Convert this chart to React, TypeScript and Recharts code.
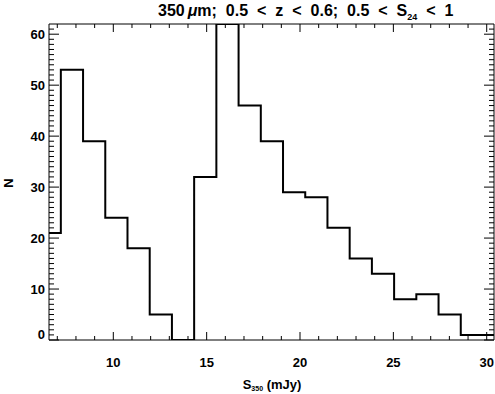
import React from "react";
import { ComposedChart, Line, XAxis, YAxis } from "recharts";

// bin left edges (mJy) and counts
const binEdges = [6.0, 7.19, 8.38, 9.57, 10.76, 11.95, 13.14, 14.33, 15.52, 16.71, 17.9, 19.09, 20.28, 21.47, 22.66, 23.85, 25.04, 26.23, 27.42, 28.61, 29.8, 30.99];
const counts = [21, 53, 39, 24, 18, 5, 0, 32, 62, 46, 39, 29, 28, 22, 16, 13, 8, 9, 5, 1, 1, 1];
const xTicks = [7, 8, 9, 10, 11, 12, 13, 14, 15, 16, 17, 18, 19, 20, 21, 22, 23, 24, 25, 26, 27, 28, 29, 30];
const yTicks = Array.from({ length: 62 }, (_, i) => i);

const data = binEdges.map((x, i) => ({ x, n: counts[i] }));

const FONT = "'Liberation Sans', Arial, Helvetica, sans-serif";

const BottomTick = (p: any) => {
  const { x, y, payload } = p;
  const v = payload.value;
  const major = v % 5 === 0;
  return (
    <g>
      <line x1={x} x2={x} y1={y} y2={y - (major ? 8 : 4)} stroke="#000" />
      {major && (
        <text x={x} y={y + 27} textAnchor="middle" fontSize={13} fontWeight="bold" fontFamily={FONT} fill="#000">
          {v}
        </text>
      )}
    </g>
  );
};

const TopTick = (p: any) => {
  const { x, y, payload } = p;
  const major = payload.value % 5 === 0;
  return <line x1={x} x2={x} y1={y} y2={y + (major ? 8 : 4)} stroke="#000" />;
};

const LeftTick = (p: any) => {
  const { x, y, payload } = p;
  const v = payload.value;
  const major = v % 10 === 0;
  return (
    <g>
      <line x1={x} x2={x + (major ? 10 : 5)} y1={y} y2={y} stroke="#000" />
      {major && (
        <text x={x - 4} y={y + (v === 0 ? -1 : 5)} textAnchor="end" fontSize={13} fontWeight="bold" fontFamily={FONT} fill="#000">
          {v}
        </text>
      )}
    </g>
  );
};

const RightTick = (p: any) => {
  const { x, y, payload } = p;
  const major = payload.value % 10 === 0;
  return <line x1={x} x2={x - (major ? 10 : 5)} y1={y} y2={y} stroke="#000" />;
};

export default function App() {
  return (
    <div style={{ position: "absolute", left: 0, top: 0, width: 495, height: 394, background: "#fff" }}>
      <ComposedChart width={495} height={394} data={data} margin={{ top: 0, right: 0, bottom: 0, left: 0 }}>
        <XAxis
          xAxisId="b"
          dataKey="x"
          type="number"
          domain={[6.556, 30.39]}
          allowDataOverflow
          ticks={xTicks}
          interval={0}
          tickSize={0}
          tickMargin={0}
          tickLine={false}
          axisLine={{ stroke: "#000" }}
          height={54}
          orientation="bottom"
          tick={<BottomTick />}
        />
        <XAxis
          xAxisId="t"
          dataKey="x"
          type="number"
          domain={[6.556, 30.39]}
          allowDataOverflow
          ticks={xTicks}
          interval={0}
          tickSize={0}
          tickMargin={0}
          tickLine={false}
          axisLine={{ stroke: "#000" }}
          height={24}
          orientation="top"
          tick={<TopTick />}
        />
        <YAxis
          yAxisId="l"
          type="number"
          domain={[0, 62]}
          allowDataOverflow
          ticks={yTicks}
          interval={0}
          tickSize={0}
          tickMargin={0}
          tickLine={false}
          axisLine={{ stroke: "#000" }}
          width={49}
          orientation="left"
          tick={<LeftTick />}
        />
        <YAxis
          yAxisId="r"
          type="number"
          domain={[0, 62]}
          allowDataOverflow
          ticks={yTicks}
          interval={0}
          tickSize={0}
          tickMargin={0}
          tickLine={false}
          axisLine={{ stroke: "#000" }}
          width={1}
          orientation="right"
          tick={<RightTick />}
        />
        <Line
          xAxisId="b"
          yAxisId="l"
          dataKey="n"
          type="stepAfter"
          stroke="#000"
          strokeWidth={2}
          dot={false}
          activeDot={false}
          isAnimationActive={false}
        />
        <text x={158} y={16} fontSize={16} fontWeight="bold" fontFamily={FONT} fill="#000" wordSpacing={4.5}>
          350<tspan dx={3} fontStyle="italic">μ</tspan>m; 0.5 &lt; z &lt; 0.6; 0.5 &lt; S<tspan fontSize={9} dy={4}>24</tspan>
          <tspan dy={-4}> &lt; 1</tspan>
        </text>
        <text x={272} y={389} textAnchor="middle" fontSize={13} fontWeight="bold" fontFamily={FONT} fill="#000">
          S<tspan fontSize={7} dy={2}>350</tspan>
          <tspan dy={-2}> (mJy)</tspan>
        </text>
        <text
          x={10}
          y={183}
          textAnchor="middle"
          fontSize={13}
          fontWeight="bold"
          fontFamily={FONT}
          fill="#000"
          transform="rotate(-90 10 183)"
          dominantBaseline="middle"
        >
          N
        </text>
      </ComposedChart>
    </div>
  );
}
